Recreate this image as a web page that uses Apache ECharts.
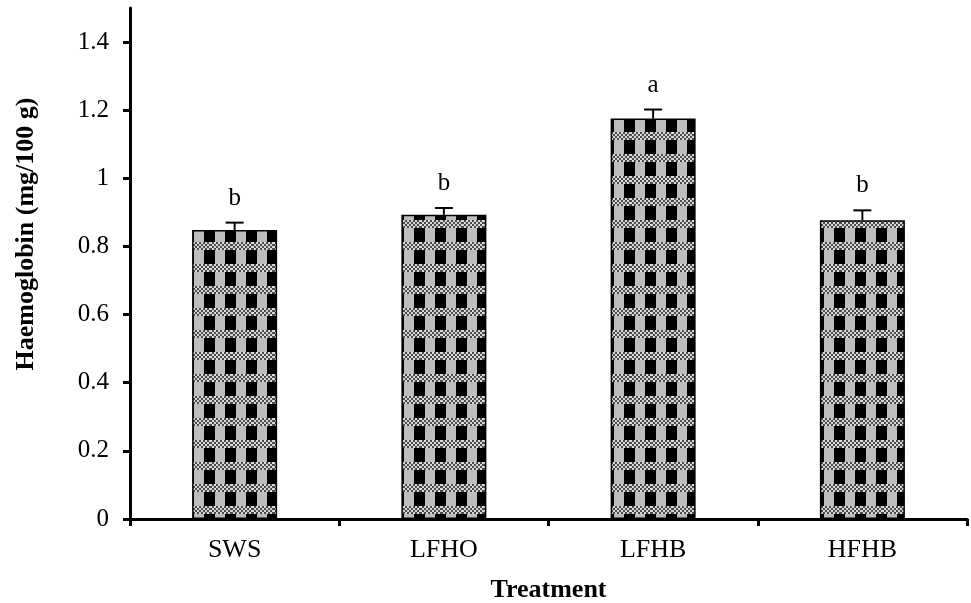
<!DOCTYPE html>
<html>
<head>
<meta charset="utf-8">
<script src="https://cdn.jsdelivr.net/npm/echarts@6/dist/echarts.min.js"></script>
<style>
  html, body { margin: 0; padding: 0; background: #fff; }
  #chart { width: 971px; height: 603px; }
</style>
</head>
<body>
<div id="chart"></div>
<script>
var categories = ['SWS', 'LFHO', 'LFHB', 'HFHB'];
var means = [0.848, 0.893, 1.176, 0.877];
var errTops = [0.870, 0.913, 1.202, 0.906];
var letters = ['b', 'b', 'a', 'b'];
var yTicks = [0, 0.2, 0.4, 0.6, 0.8, 1, 1.2, 1.4];

var FONT = '"Liberation Serif", "Times New Roman", serif';

// tile for the bar fill: black ground, grey columns, checkered band
function makeTile() {
    var c = document.createElement('canvas');
    c.width = 21;
    c.height = 22;
    var g = c.getContext('2d');
    g.fillStyle = '#000';
    g.fillRect(0, 0, 21, 22);
    // grey column
    g.fillStyle = '#bdbdbd';
    g.fillRect(5, 0, 10, 22);
    // checkered band
    for (var y = 0; y < 8; y += 2) {
        for (var x = 0; x < 21; x += 2) {
            var on = ((x + y) / 2) % 2 === 0;
            g.fillStyle = on ? '#d8d8d8' : '#4a4a4a';
            g.fillRect(x, y, 2, 2);
        }
    }
    return c;
}

var chart = echarts.init(document.getElementById('chart'));

var errData = categories.map(function (c, i) {
    return [i, means[i], errTops[i], letters[i]];
});

var option = {
    animation: false,
    backgroundColor: '#fff',
    grid: { left: 130, right: 4, top: 8, bottom: 84, outerBoundsMode: 'none' },
    xAxis: {
        type: 'category',
        data: categories,
        name: 'Treatment',
        nameLocation: 'middle',
        nameGap: 58,
        nameTextStyle: { fontFamily: FONT, fontWeight: 'bold', fontSize: 26, color: '#000' },
        axisLine: { lineStyle: { color: '#000', width: 3 } },
        axisTick: { show: true, length: 7, lineStyle: { color: '#000', width: 3 } },
        axisLabel: { margin: 18, fontFamily: FONT, fontSize: 26, color: '#000' }
    },
    yAxis: {
        type: 'value',
        min: 0,
        max: 1.5,
        interval: 0.2,
        splitLine: { show: false },
        axisLine: { show: true, lineStyle: { color: '#000', width: 3 } },
        axisTick: { show: true, length: 7, customValues: yTicks, lineStyle: { color: '#000', width: 3 } },
        axisLabel: { margin: 21, customValues: yTicks, fontFamily: FONT, fontSize: 25, color: '#000' }
    },
    graphic: [{
        type: 'text',
        x: 26,
        y: 234,
        rotation: Math.PI / 2,
        style: {
            text: 'Haemoglobin (mg/100 g)',
            font: 'bold 26px ' + FONT,
            fill: '#000',
            align: 'center',
            verticalAlign: 'middle'
        }
    }],
    series: [{
        type: 'bar',
        data: means,
        barWidth: 85,
        itemStyle: {
            color: { image: makeTile(), repeat: 'repeat' },
            borderColor: '#000',
            borderWidth: 1.5
        },
        z: 2
    }, {
        type: 'custom',
        data: errData,
        encode: { x: 0, y: [1, 2] },
        z: 3,
        renderItem: function (params, api) {
            var i = api.value(0);
            var base = api.coord([i, api.value(1)]);
            var top = api.coord([i, api.value(2)]);
            var half = 9;
            var lbl = errData[params.dataIndex][3];
            return {
                type: 'group',
                children: [{
                    type: 'line',
                    shape: { x1: base[0], y1: base[1], x2: top[0], y2: top[1] },
                    style: { stroke: '#000', lineWidth: 2 }
                }, {
                    type: 'line',
                    shape: { x1: top[0] - half, y1: top[1], x2: top[0] + half, y2: top[1] },
                    style: { stroke: '#000', lineWidth: 2 }
                }, {
                    type: 'text',
                    x: top[0],
                    y: top[1] - 12,
                    style: {
                        text: lbl,
                        font: '25px ' + FONT,
                        fill: '#000',
                        align: 'center',
                        verticalAlign: 'bottom'
                    }
                }]
            };
        }
    }]
};

chart.setOption(option);
</script>
</body>
</html>
